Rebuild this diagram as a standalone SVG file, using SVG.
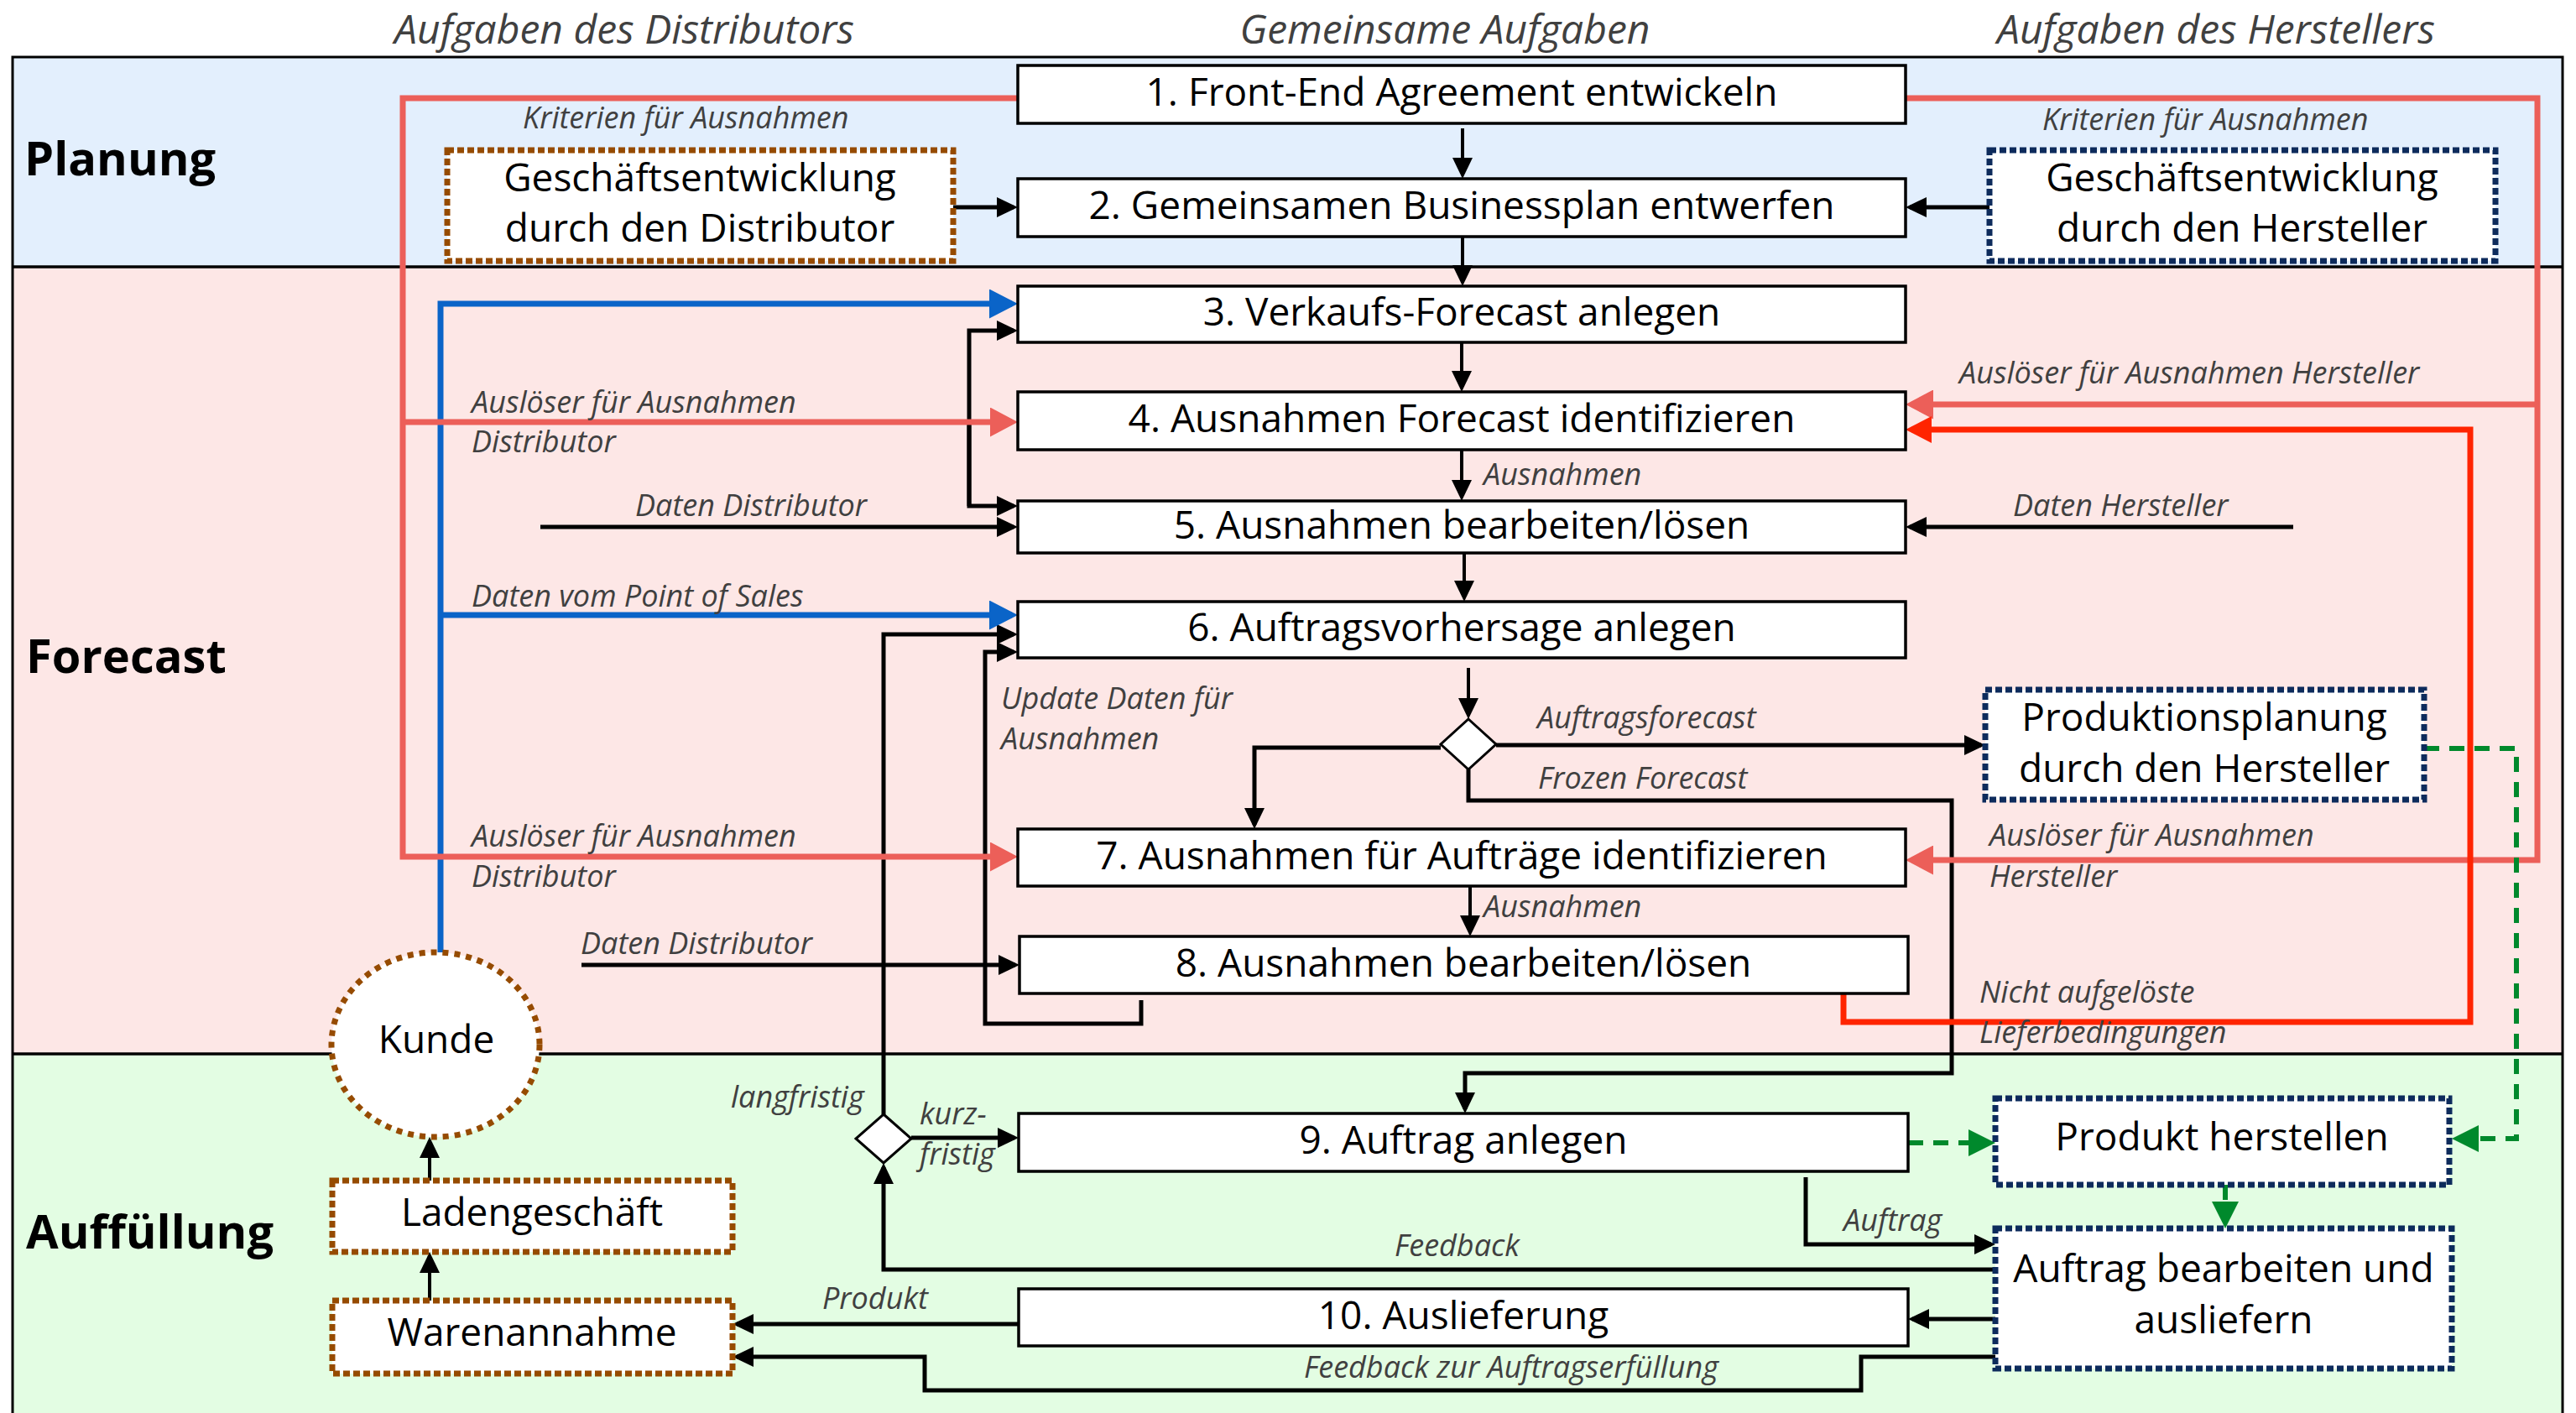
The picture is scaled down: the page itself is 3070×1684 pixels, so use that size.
<svg xmlns="http://www.w3.org/2000/svg" width="3070" height="1684" viewBox="0 0 3070 1684">
  <defs>
    <style>
      .lane-label { font-family: "Open Sans", "Noto Sans", sans-serif; font-weight: bold; font-size: 56px; fill: #000; }
      .head { font-family: "Open Sans", "Noto Sans", sans-serif; font-style: italic; font-size: 48px; fill: #404040; text-anchor: middle; }
      .lbl { font-family: "Open Sans", "Noto Sans", sans-serif; font-style: italic; font-size: 36px; fill: #404040; }
      .btxt { font-family: "Open Sans", "Noto Sans", sans-serif; font-size: 46px; fill: #000; text-anchor: middle; }
      .box { fill: #fff; stroke: #000; stroke-width: 3.5; }
      .dist { fill: #fff; stroke: #964B00; stroke-width: 7; stroke-dasharray: 8 4; }
      .herst { fill: #fff; stroke: #0D2B5C; stroke-width: 7; stroke-dasharray: 8 4; }
      .diamond { fill: #fff; stroke: #000; stroke-width: 3; }
      .c { fill: none; stroke: #000; stroke-width: 5; stroke-linejoin: miter; }
      .thin { stroke-width: 4; }
      .blue { stroke: #0A64C8; stroke-width: 7; }
      .red { stroke: #EC5F59; stroke-width: 7; }
      .hot { stroke: #FF2400; stroke-width: 7; }
      .green { stroke: #00892C; stroke-width: 6; stroke-dasharray: 18 12; }
    </style>
    <marker id="mK" markerUnits="userSpaceOnUse" markerWidth="25" markerHeight="24" refX="20" refY="12" orient="auto">
      <path d="M0,0 L25,12 L0,24 Z" fill="#000"/>
    </marker>
    <marker id="mB" markerUnits="userSpaceOnUse" markerWidth="34" markerHeight="35" refX="27" refY="17.5" orient="auto">
      <path d="M0,0 L34,17.5 L0,35 Z" fill="#0A64C8"/>
    </marker>
    <marker id="mR" markerUnits="userSpaceOnUse" markerWidth="33" markerHeight="35" refX="26" refY="17.5" orient="auto">
      <path d="M0,0 L33,17.5 L0,35 Z" fill="#EC5F59"/>
    </marker>
    <marker id="mH" markerUnits="userSpaceOnUse" markerWidth="31" markerHeight="32" refX="24" refY="16" orient="auto">
      <path d="M0,0 L31,16 L0,32 Z" fill="#FF2400"/>
    </marker>
    <marker id="mG" markerUnits="userSpaceOnUse" markerWidth="32" markerHeight="32" refX="25" refY="16" orient="auto">
      <path d="M0,0 L32,16 L0,32 Z" fill="#00892C"/>
    </marker>
  </defs>

  <rect x="0" y="0" width="3070" height="1684" fill="#fff"/>

  <!-- swimlanes -->
  <g id="lanes">
    <rect x="15" y="68" width="3039" height="250" fill="#E3EFFD"/>
    <rect x="15" y="318" width="3039" height="938" fill="#FDE7E6"/>
    <rect x="15" y="1256" width="3039" height="440" fill="#E3FDE3"/>
    <rect x="15" y="68" width="3039" height="1630" fill="none" stroke="#000" stroke-width="3"/>
    <line x1="15" y1="318" x2="3054" y2="318" stroke="#000" stroke-width="3.5"/>
    <line x1="15" y1="1256" x2="3054" y2="1256" stroke="#000" stroke-width="3.5"/>
    <text class="lane-label" x="29" y="209">Planung</text>
    <text class="lane-label" x="31" y="802">Forecast</text>
    <text class="lane-label" x="31" y="1488">Auffüllung</text>
    <text class="head" x="744" y="52">Aufgaben des Distributors</text>
    <text class="head" x="1722" y="52">Gemeinsame Aufgaben</text>
    <text class="head" x="2641" y="52">Aufgaben des Herstellers</text>
  </g>

  <!-- connectors -->
  <g id="connectors">
    <!-- main flow -->
    <path class="c thin" d="M1743,153 V208" marker-end="url(#mK)"/>
    <path class="c thin" d="M1743,282 V336" marker-end="url(#mK)"/>
    <path class="c thin" d="M1742,408 V462" marker-end="url(#mK)"/>
    <path class="c thin" d="M1742,536 V592" marker-end="url(#mK)"/>
    <path class="c thin" d="M1745,659 V712" marker-end="url(#mK)"/>
    <path class="c thin" d="M1750,796 V852" marker-end="url(#mK)"/>
    <path class="c" d="M1783,888 H2361" marker-end="url(#mK)"/>
    <path class="c" d="M1717,891 H1495 V983" marker-end="url(#mK)"/>
    <path class="c" d="M1750,917 V954 H2326 V1279 H1746 V1322" marker-end="url(#mK)"/>
    <path class="c thin" d="M1752,1056 V1111" marker-end="url(#mK)"/>

    <!-- side inputs -->
    <path class="c" d="M1136,247 H1208" marker-end="url(#mK)"/>
    <path class="c" d="M2371,247 H2276" marker-end="url(#mK)"/>
    <path class="c" d="M1155,603 V394 H1208" marker-end="url(#mK)"/>
    <path class="c" d="M1155,500 V603 H1208" marker-end="url(#mK)"/>
    <path class="c" d="M644,628 H1208" marker-end="url(#mK)"/>
    <path class="c" d="M2733,628 H2276" marker-end="url(#mK)"/>
    <path class="c" d="M693,1150 H1210" marker-end="url(#mK)"/>
    <path class="c" d="M1360,1192 V1220 H1174 V777 H1208" marker-end="url(#mK)"/>
    <path class="c" d="M1053,1328 V756 H1208" marker-end="url(#mK)"/>

    <!-- replenishment -->
    <path class="c" d="M1086,1356 H1209" marker-end="url(#mK)"/>
    <path class="c" d="M2152,1403 V1483 H2373" marker-end="url(#mK)"/>
    <path class="c" d="M2378,1513 H1053 V1391" marker-end="url(#mK)"/>
    <path class="c" d="M2378,1572 H2279" marker-end="url(#mK)"/>
    <path class="c" d="M1214,1578 H878" marker-end="url(#mK)"/>
    <path class="c" d="M2378,1617 H2218 V1657 H1102 V1617 H878" marker-end="url(#mK)"/>
    <path class="c thin" d="M512,1550 V1497" marker-end="url(#mK)"/>
    <path class="c thin" d="M512,1407 V1360" marker-end="url(#mK)"/>

    <!-- point of sales data -->
    <path class="c blue" d="M525,1135 V362 H1206" marker-end="url(#mB)"/>
    <path class="c blue" d="M525,733 H1206" marker-end="url(#mB)"/>

    <!-- exception criteria and triggers -->
    <path class="c red" d="M1213,117 H480 V1021 H1206" marker-end="url(#mR)"/>
    <path class="c red" d="M480,503 H1206" marker-end="url(#mR)"/>
    <path class="c red" d="M2271,117 H3024 V1025 H2278" marker-end="url(#mR)"/>
    <path class="c red" d="M3024,482 H2278" marker-end="url(#mR)"/>
    <path class="c hot" d="M2197,1184 V1218 H2944 V512 H2278" marker-end="url(#mH)"/>

    <!-- production -->
    <path class="c green" d="M2889,892 H2999 V1357 H2929" marker-end="url(#mG)"/>
    <path class="c green" d="M2274,1362 H2371" marker-end="url(#mG)"/>
    <path class="c green" d="M2652,1412 V1457" marker-end="url(#mG)"/>

    <!-- connector labels -->
    <text class="lbl" x="623" y="153">Kriterien für Ausnahmen</text>
    <text class="lbl" x="2434" y="155">Kriterien für Ausnahmen</text>
    <text class="lbl" x="562" y="492">Auslöser für Ausnahmen</text>
    <text class="lbl" x="562" y="539">Distributor</text>
    <text class="lbl" x="2335" y="457">Auslöser für Ausnahmen Hersteller</text>
    <text class="lbl" x="1768" y="578">Ausnahmen</text>
    <text class="lbl" x="757" y="615">Daten Distributor</text>
    <text class="lbl" x="2399" y="615">Daten Hersteller</text>
    <text class="lbl" x="562" y="723">Daten vom Point of Sales</text>
    <text class="lbl" x="1193" y="845">Update Daten für</text>
    <text class="lbl" x="1193" y="893">Ausnahmen</text>
    <text class="lbl" x="1832" y="868">Auftragsforecast</text>
    <text class="lbl" x="1833" y="940">Frozen Forecast</text>
    <text class="lbl" x="562" y="1009">Auslöser für Ausnahmen</text>
    <text class="lbl" x="562" y="1057">Distributor</text>
    <text class="lbl" x="2371" y="1008">Auslöser für Ausnahmen</text>
    <text class="lbl" x="2371" y="1057">Hersteller</text>
    <text class="lbl" x="1768" y="1093">Ausnahmen</text>
    <text class="lbl" x="692" y="1137">Daten Distributor</text>
    <text class="lbl" x="2359" y="1195">Nicht aufgelöste</text>
    <text class="lbl" x="2359" y="1243">Lieferbedingungen</text>
    <text class="lbl" x="871" y="1320">langfristig</text>
    <text class="lbl" x="1096" y="1340">kurz-</text>
    <text class="lbl" x="1096" y="1388">fristig</text>
    <text class="lbl" x="2197" y="1467">Auftrag</text>
    <text class="lbl" x="1662" y="1497">Feedback</text>
    <text class="lbl" x="980" y="1560">Produkt</text>
    <text class="lbl" x="1554" y="1642">Feedback zur Auftragserfüllung</text>
  </g>

  <!-- shared tasks -->
  <g id="n1"><rect class="box" x="1213" y="78" width="1058" height="69"/><text class="btxt" x="1742" y="126">1. Front-End Agreement entwickeln</text></g>
  <g id="n2"><rect class="box" x="1213" y="213" width="1058" height="69"/><text class="btxt" x="1742" y="261">2. Gemeinsamen Businessplan entwerfen</text></g>
  <g id="n3"><rect class="box" x="1213" y="341" width="1058" height="67"/><text class="btxt" x="1742" y="388">3. Verkaufs-Forecast anlegen</text></g>
  <g id="n4"><rect class="box" x="1213" y="467" width="1058" height="69"/><text class="btxt" x="1742" y="515">4. Ausnahmen Forecast identifizieren</text></g>
  <g id="n5"><rect class="box" x="1213" y="597" width="1058" height="62"/><text class="btxt" x="1742" y="642">5. Ausnahmen bearbeiten/lösen</text></g>
  <g id="n6"><rect class="box" x="1213" y="717" width="1058" height="67"/><text class="btxt" x="1742" y="764">6. Auftragsvorhersage anlegen</text></g>
  <g id="n7"><rect class="box" x="1213" y="988" width="1058" height="68"/><text class="btxt" x="1742" y="1036">7. Ausnahmen für Aufträge identifizieren</text></g>
  <g id="n8"><rect class="box" x="1215" y="1116" width="1059" height="68"/><text class="btxt" x="1744" y="1164">8. Ausnahmen bearbeiten/lösen</text></g>
  <g id="n9"><rect class="box" x="1214" y="1327" width="1060" height="69"/><text class="btxt" x="1744" y="1375">9. Auftrag anlegen</text></g>
  <g id="n10"><rect class="box" x="1214" y="1536" width="1060" height="68"/><text class="btxt" x="1744" y="1584">10. Auslieferung</text></g>

  <!-- decisions -->
  <g id="d1"><path class="diamond" d="M1750,857 L1783,887 L1750,917 L1717,887 Z"/></g>
  <g id="d2"><path class="diamond" d="M1053,1328 L1086,1357 L1053,1386 L1020,1357 Z"/></g>

  <!-- distributor tasks -->
  <g id="dist-business"><rect class="dist" x="533" y="179" width="603" height="132"/><text class="btxt" x="834" y="228">Geschäftsentwicklung</text><text class="btxt" x="834" y="288">durch den Distributor</text></g>
  <g id="kunde"><ellipse cx="519" cy="1245" rx="124" ry="110" fill="#fff" stroke="#964B00" stroke-width="7" stroke-dasharray="7 7"/><text class="btxt" x="520" y="1255">Kunde</text></g>
  <g id="laden"><rect class="dist" x="396" y="1407" width="477" height="85"/><text class="btxt" x="634" y="1461">Ladengeschäft</text></g>
  <g id="waren"><rect class="dist" x="396" y="1550" width="477" height="87"/><text class="btxt" x="634" y="1604">Warenannahme</text></g>

  <!-- manufacturer tasks -->
  <g id="herst-business"><rect class="herst" x="2371" y="179" width="603" height="132"/><text class="btxt" x="2672" y="228">Geschäftsentwicklung</text><text class="btxt" x="2672" y="288">durch den Hersteller</text></g>
  <g id="prodplan"><rect class="herst" x="2366" y="822" width="523" height="131"/><text class="btxt" x="2627" y="871">Produktionsplanung</text><text class="btxt" x="2627" y="932">durch den Hersteller</text></g>
  <g id="produkt"><rect class="herst" x="2378" y="1309" width="541" height="103"/><text class="btxt" x="2648" y="1371">Produkt herstellen</text></g>
  <g id="auftrag"><rect class="herst" x="2378" y="1464" width="544" height="167"/><text class="btxt" x="2650" y="1528">Auftrag bearbeiten und</text><text class="btxt" x="2650" y="1589">ausliefern</text></g>
</svg>
